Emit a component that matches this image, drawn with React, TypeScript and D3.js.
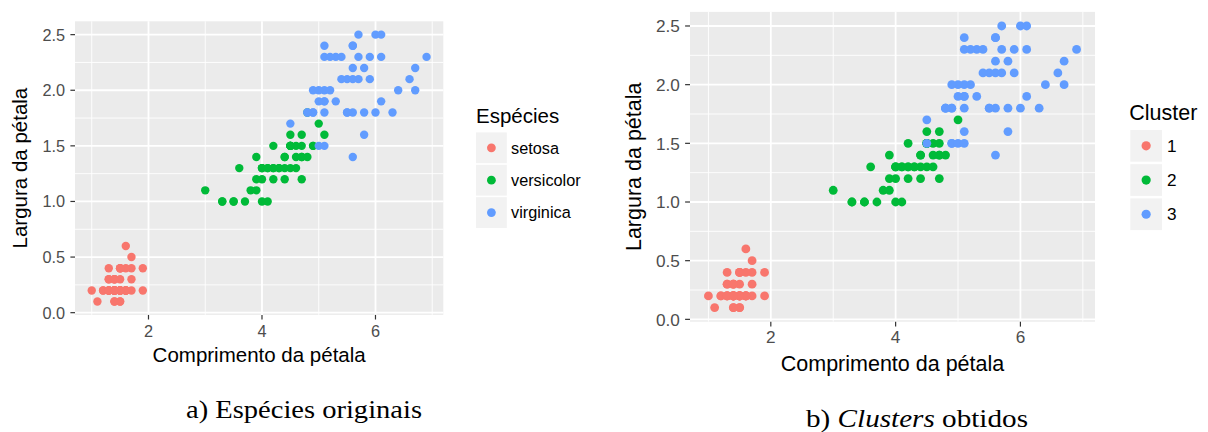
import React from 'react';
import * as d3 from 'd3';

// Iris petal measurements (length, width) per species, in data order
const setosaLength = [1.4,1.4,1.3,1.5,1.4,1.7,1.4,1.5,1.4,1.5,1.5,1.6,1.4,1.1,1.2,1.5,1.3,1.4,1.7,1.5,1.7,1.5,1.0,1.7,1.9,1.6,1.6,1.5,1.4,1.6,1.6,1.5,1.5,1.4,1.5,1.2,1.3,1.4,1.3,1.5,1.3,1.3,1.3,1.6,1.9,1.4,1.6,1.4,1.5,1.4];
const setosaWidth = [0.2,0.2,0.2,0.2,0.2,0.4,0.3,0.2,0.2,0.1,0.2,0.2,0.1,0.1,0.2,0.4,0.4,0.3,0.3,0.3,0.2,0.4,0.2,0.5,0.2,0.2,0.4,0.2,0.2,0.2,0.2,0.4,0.1,0.2,0.2,0.2,0.2,0.1,0.2,0.2,0.3,0.3,0.2,0.6,0.4,0.3,0.2,0.2,0.2,0.2];
const versicolorLength = [4.7,4.5,4.9,4.0,4.6,4.5,4.7,3.3,4.6,3.9,3.5,4.2,4.0,4.7,3.6,4.4,4.5,4.1,4.5,3.9,4.8,4.0,4.9,4.7,4.3,4.4,4.8,5.0,4.5,3.5,3.8,3.7,3.9,5.1,4.5,4.5,4.7,4.4,4.1,4.0,4.4,4.6,4.0,3.3,4.2,4.2,4.2,4.3,3.0,4.1];
const versicolorWidth = [1.4,1.5,1.5,1.3,1.5,1.3,1.6,1.0,1.3,1.4,1.0,1.5,1.0,1.4,1.3,1.4,1.5,1.0,1.5,1.1,1.8,1.3,1.5,1.2,1.3,1.4,1.4,1.7,1.5,1.0,1.1,1.0,1.2,1.6,1.5,1.6,1.5,1.3,1.3,1.3,1.2,1.4,1.2,1.0,1.3,1.2,1.3,1.3,1.1,1.3];
const virginicaLength = [6.0,5.1,5.9,5.6,5.8,6.6,4.5,6.3,5.8,6.1,5.1,5.3,5.5,5.0,5.1,5.3,5.5,6.7,6.9,5.0,5.7,4.9,6.7,4.9,5.7,6.0,4.8,4.9,5.6,5.8,6.1,6.4,5.6,5.1,5.6,6.1,5.6,5.5,4.8,5.4,5.6,5.1,5.1,5.9,5.7,5.2,5.0,5.2,5.4,5.1];
const virginicaWidth = [2.5,1.9,2.1,1.8,2.2,2.1,1.7,1.8,1.8,2.5,2.0,1.9,2.1,2.0,2.4,2.3,1.8,2.2,2.3,1.5,2.3,2.0,2.0,1.8,2.1,1.8,1.8,1.8,2.1,1.6,1.9,2.0,2.2,1.5,1.4,2.3,2.4,1.8,1.8,2.1,2.4,2.3,1.9,2.3,2.5,2.3,1.9,2.0,2.3,1.8];

const speciesNames = ['setosa', 'versicolor', 'virginica'];
const clusterNames = ['1', '2', '3'];
// Cluster obtained for each flower, same order as the species arrays above
const setosaCluster = '11111111111111111111111111111111111111111111111111';
const versicolorCluster = '2232222222' + '2222222222' + '3232222222' + '2223322222' + '2222222222';
const virginicaCluster = '33333333333333333333333333333333333333333333333333';

const xTicks = [2, 4, 6];
const yTicks = [0, 0.5, 1.0, 1.5, 2.0, 2.5];
const xMinor = [1, 3, 5, 7];
const yMinor = [0.25, 0.75, 1.25, 1.75, 2.25];

const COLORS = ['#F8766D', '#00BA38', '#619CFF'];
const SANS = '"Liberation Sans", Arial, Helvetica, sans-serif';
const SERIF = '"Liberation Serif", "DejaVu Serif", serif';

type Pt = { x: number; y: number; g: number };

const lengths = [...setosaLength, ...versicolorLength, ...virginicaLength];
const widths = [...setosaWidth, ...versicolorWidth, ...virginicaWidth];
const speciesIdx = [
  ...setosaLength.map(() => 0),
  ...versicolorLength.map(() => 1),
  ...virginicaLength.map(() => 2),
];
const clusterIdx = (setosaCluster + versicolorCluster + virginicaCluster).split('').map((c) => +c - 1);

const speciesPts: Pt[] = lengths.map((x, i) => ({ x, y: widths[i], g: speciesIdx[i] }));
const clusterPts: Pt[] = lengths.map((x, i) => ({ x, y: widths[i], g: clusterIdx[i] }));

type Cfg = {
  x0: number; x1: number; y0: number; y1: number;
  tickFont: number; titleFont: number; r: number;
  yTitleX: number; xTitleY: number; xTickY: number; yTickGap: number; tickLen: number;
  legTitle: string; legTitleX: number; legTitleY: number;
  keyX: number; keyY0: number; keyW: number; keyStep: number; labelX: number;
  labels: string[];
  pts: Pt[];
};

function Panel({ c }: { c: Cfg }) {
  const xs = d3.scaleLinear().domain([0.705, 7.195]).range([c.x0, c.x1]);
  const ys = d3.scaleLinear().domain([-0.02, 2.62]).range([c.y1, c.y0]);
  const fmt = d3.format('.1f');
  const cy = (c.y0 + c.y1) / 2;
  const cx = (c.x0 + c.x1) / 2;
  return (
    <g>
      <rect x={c.x0} y={c.y0} width={c.x1 - c.x0} height={c.y1 - c.y0} fill="#EBEBEB" />
      {yMinor.map((v) => (
        <line key={'ym' + v} x1={c.x0} x2={c.x1} y1={ys(v)} y2={ys(v)} stroke="#fff" strokeWidth={0.9} />
      ))}
      {xMinor.map((v) => (
        <line key={'xm' + v} y1={c.y0} y2={c.y1} x1={xs(v)} x2={xs(v)} stroke="#fff" strokeWidth={0.9} />
      ))}
      {yTicks.map((v) => (
        <line key={'yM' + v} x1={c.x0} x2={c.x1} y1={ys(v)} y2={ys(v)} stroke="#fff" strokeWidth={1.8} />
      ))}
      {xTicks.map((v) => (
        <line key={'xM' + v} y1={c.y0} y2={c.y1} x1={xs(v)} x2={xs(v)} stroke="#fff" strokeWidth={1.8} />
      ))}
      {c.pts.map((p, i) => (
        <circle key={i} cx={xs(p.x)} cy={ys(p.y)} r={c.r} fill={COLORS[p.g]} />
      ))}
      {yTicks.map((v) => (
        <g key={'yt' + v}>
          <line x1={c.x0 - c.tickLen} x2={c.x0} y1={ys(v)} y2={ys(v)} stroke="#333" strokeWidth={1.2} />
          <text x={c.x0 - c.tickLen - c.yTickGap} y={ys(v)} dy="0.36em" textAnchor="end"
            fontFamily={SANS} fontSize={c.tickFont} fill="#4D4D4D">{fmt(v)}</text>
        </g>
      ))}
      {xTicks.map((v) => (
        <g key={'xt' + v}>
          <line x1={xs(v)} x2={xs(v)} y1={c.y1} y2={c.y1 + c.tickLen} stroke="#333" strokeWidth={1.2} />
          <text x={xs(v)} y={c.xTickY} textAnchor="middle"
            fontFamily={SANS} fontSize={c.tickFont} fill="#4D4D4D">{v}</text>
        </g>
      ))}
      <text x={cx} y={c.xTitleY} textAnchor="middle" fontFamily={SANS} fontSize={c.titleFont} fill="#000">
        Comprimento da pétala
      </text>
      <text transform={`translate(${c.yTitleX},${cy}) rotate(-90)`} textAnchor="middle"
        fontFamily={SANS} fontSize={c.titleFont} fill="#000">
        Largura da pétala
      </text>
      <text x={c.legTitleX} y={c.legTitleY} fontFamily={SANS} fontSize={c.titleFont} fill="#000">{c.legTitle}</text>
      {c.labels.map((l, i) => {
        const ky = c.keyY0 + i * c.keyStep;
        return (
          <g key={'lg' + l}>
            <rect x={c.keyX} y={ky} width={c.keyW} height={c.keyW} fill="#F2F2F2" />
            <circle cx={c.keyX + c.keyW / 2} cy={ky + c.keyW / 2} r={c.r + 0.2} fill={COLORS[i]} />
            <text x={c.labelX} y={ky + c.keyW / 2} dy="0.36em" fontFamily={SANS} fontSize={c.tickFont} fill="#000">{l}</text>
          </g>
        );
      })}
    </g>
  );
}

const leftCfg: Cfg = {
  x0: 75, x1: 443.3, y0: 21.3, y1: 314.9,
  tickFont: 16.3, titleFont: 20.5, r: 4.2,
  yTitleX: 27, xTitleY: 361.5, xTickY: 336.7, yTickGap: 5.3, tickLen: 4.6,
  legTitle: 'Espécies', legTitleX: 476, legTitleY: 123.3,
  keyX: 476, keyY0: 132.4, keyW: 30.8, keyStep: 32.4, labelX: 511,
  labels: speciesNames, pts: speciesPts,
};

const rightCfg: Cfg = {
  x0: 690, x1: 1095, y0: 11.9, y1: 321.7,
  tickFont: 17.2, titleFont: 21.5, r: 4.4,
  yTitleX: 641, xTitleY: 370.5, xTickY: 343.3, yTickGap: 5.3, tickLen: 4.9,
  legTitle: 'Cluster', legTitleX: 1129.3, legTitleY: 120,
  keyX: 1130.3, keyY0: 130, keyW: 31.7, keyStep: 34.2, labelX: 1167,
  labels: clusterNames, pts: clusterPts,
};

export default function App() {
  return (
    <svg width={1208} height={432} style={{ position: 'absolute', left: 0, top: 0, background: '#fff' }}>
      <rect x={0} y={0} width={1208} height={432} fill="#fff" />
      <Panel c={leftCfg} />
      <Panel c={rightCfg} />
      <text x={304} y={418} textAnchor="middle" fontFamily={SERIF} fontSize={26} textLength={236}
        lengthAdjust="spacingAndGlyphs" fill="#000">a) Espécies originais</text>
      <text x={917} y={427} textAnchor="middle" fontFamily={SERIF} fontSize={26} textLength={222}
        lengthAdjust="spacingAndGlyphs" fill="#000">
        b) <tspan fontStyle="italic">Clusters</tspan> obtidos
      </text>
    </svg>
  );
}
